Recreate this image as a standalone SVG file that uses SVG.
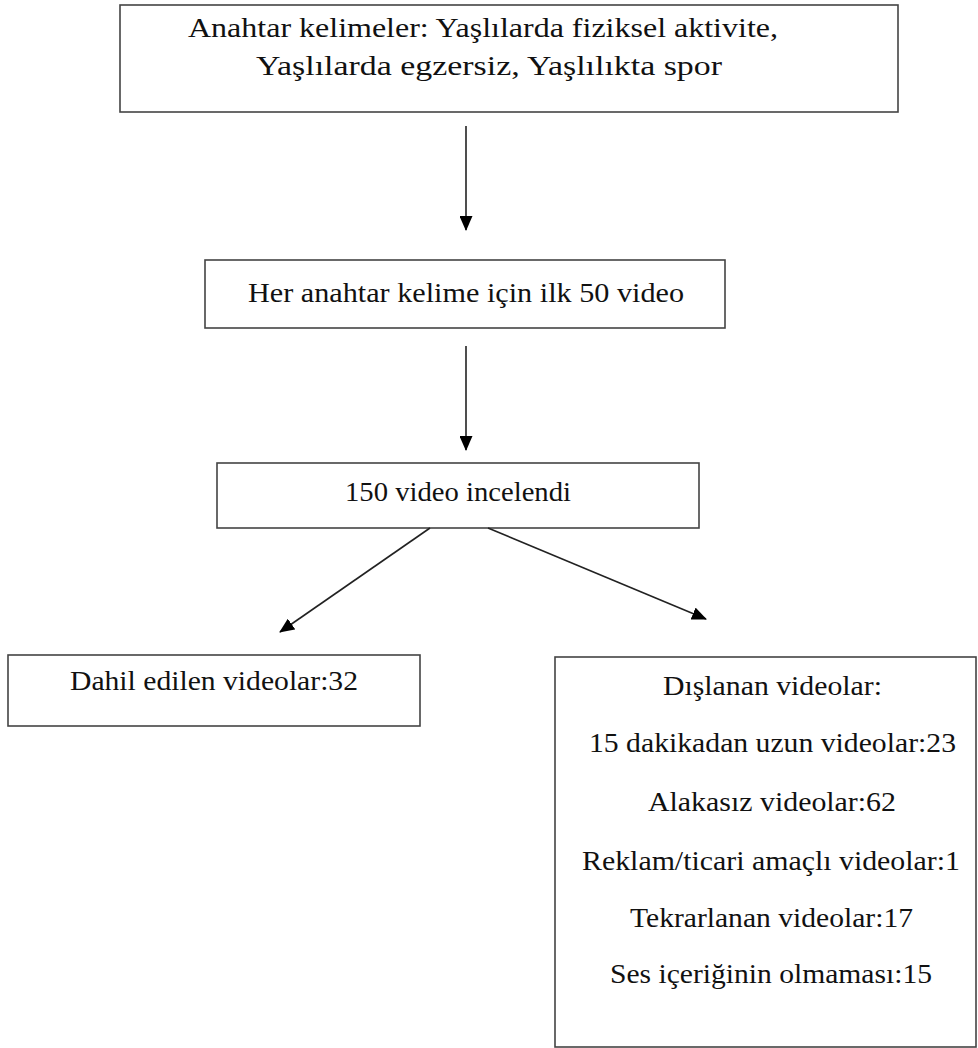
<svg xmlns="http://www.w3.org/2000/svg" width="978" height="1048" viewBox="0 0 978 1048">
<style>
.box{fill:#fff;stroke:#444;stroke-width:1.6}
.t{font-family:"Liberation Serif","Times New Roman",Times,serif;font-size:27px;fill:#111}
.c{stroke:#222;stroke-width:1.6;fill:none}
</style>
<defs>
<marker id="ah" markerWidth="15" markerHeight="13" refX="14" refY="6.5" orient="auto" markerUnits="userSpaceOnUse">
<path d="M0,0 L15,6.5 L0,13 Z" fill="#000"/>
</marker>
</defs>
<rect width="978" height="1048" fill="#fff"/>
<g id="n1">
<rect class="box" x="120" y="5" width="778" height="107"/>
<text class="t" x="188" y="37" textLength="590" lengthAdjust="spacingAndGlyphs">Anahtar kelimeler: Yaşlılarda fiziksel aktivite,</text>
<text class="t" x="256" y="75" textLength="466" lengthAdjust="spacingAndGlyphs">Yaşlılarda egzersiz, Yaşlılıkta spor</text>
</g>
<g id="n2">
<rect class="box" x="205" y="260" width="520" height="68"/>
<text class="t" x="248" y="302" textLength="436" lengthAdjust="spacingAndGlyphs">Her anahtar kelime için ilk 50 video</text>
</g>
<g id="n3">
<rect class="box" x="217" y="463" width="482" height="65"/>
<text class="t" x="345" y="501" textLength="226" lengthAdjust="spacingAndGlyphs">150 video incelendi</text>
</g>
<g id="n4">
<rect class="box" x="8" y="655" width="412" height="71"/>
<text class="t" x="70" y="690" textLength="288" lengthAdjust="spacingAndGlyphs">Dahil edilen videolar:32</text>
</g>
<g id="n5">
<rect class="box" x="555" y="657" width="421" height="390"/>
<text class="t" x="663" y="695" textLength="219" lengthAdjust="spacingAndGlyphs">Dışlanan videolar:</text>
<text class="t" x="589" y="752" textLength="367" lengthAdjust="spacingAndGlyphs">15 dakikadan uzun videolar:23</text>
<text class="t" x="648" y="811" textLength="248" lengthAdjust="spacingAndGlyphs">Alakasız videolar:62</text>
<text class="t" x="582" y="870" textLength="378" lengthAdjust="spacingAndGlyphs">Reklam/ticari amaçlı videolar:1</text>
<text class="t" x="630" y="927" textLength="283" lengthAdjust="spacingAndGlyphs">Tekrarlanan videolar:17</text>
<text class="t" x="610" y="983" textLength="322" lengthAdjust="spacingAndGlyphs">Ses içeriğinin olmaması:15</text>
</g>
<g id="connectors">
<line class="c" x1="466" y1="126" x2="466" y2="230" marker-end="url(#ah)"/>
<line class="c" x1="466" y1="346" x2="466" y2="450" marker-end="url(#ah)"/>
<line class="c" x1="430" y1="528" x2="280" y2="632" marker-end="url(#ah)"/>
<line class="c" x1="488" y1="528" x2="706" y2="619" marker-end="url(#ah)"/>
</g>
</svg>
